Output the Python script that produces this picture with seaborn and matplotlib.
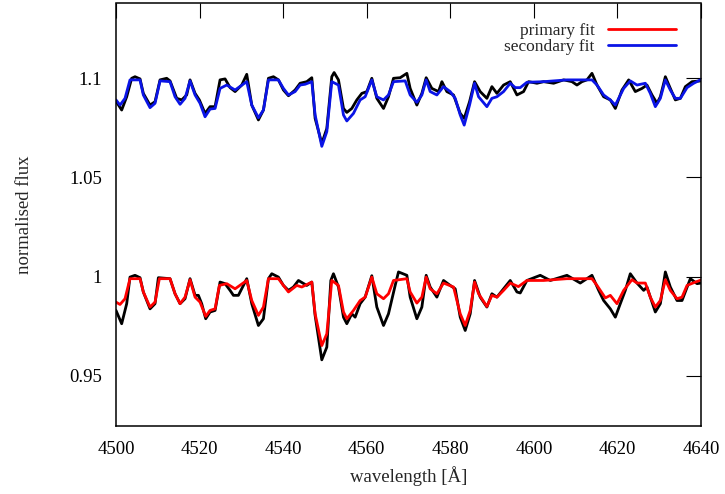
import matplotlib
matplotlib.use("Agg")
import matplotlib.pyplot as plt
import seaborn as sns

# ---------------- data ----------------
# secondary component: observed (black) and fit (blue), offset by +0.1
wl_sec_obs = [4500.0, 4501.36, 4502.56, 4503.75, 4504.55, 4505.75, 4506.54, 4508.14, 4509.34, 4510.54,
              4512.13, 4512.93, 4514.53, 4515.73, 4516.92, 4517.72, 4518.92, 4519.95, 4521.31, 4522.51,
              4523.71, 4524.90, 4526.10, 4527.30, 4528.50, 4530.09, 4531.29, 4532.49, 4534.08, 4535.28,
              4536.48, 4537.68, 4538.87, 4540.07, 4541.27, 4542.86, 4544.06, 4545.66, 4546.86, 4547.65,
              4549.25, 4550.45, 4551.64, 4552.20, 4553.24, 4554.44, 4555.24, 4556.43, 4557.63, 4558.83,
              4560.03, 4561.22, 4562.42, 4564.02, 4565.21, 4566.41, 4568.01, 4569.61, 4570.40, 4572.00,
              4573.20, 4574.23, 4575.59, 4577.19, 4577.99, 4579.18, 4580.78, 4582.38, 4583.33, 4584.61,
              4585.81, 4587.16, 4588.76, 4589.96, 4591.16, 4592.75, 4594.35, 4595.95, 4597.54, 4598.74,
              4600.74, 4602.33, 4604.73, 4607.12, 4609.12, 4610.31, 4611.51, 4612.71, 4613.91, 4615.11,
              4616.70, 4618.30, 4619.50, 4621.09, 4622.69, 4624.28, 4625.88, 4627.07, 4628.27, 4629.47,
              4630.27, 4631.47, 4632.66, 4633.86, 4635.06, 4636.26, 4637.85, 4640.00]
flux_sec_obs = [1.0885, 1.0840, 1.0907, 1.1000, 1.1008, 1.0997, 1.0924, 1.0865, 1.0882, 1.0992,
                1.1000, 1.0987, 1.0899, 1.0891, 1.0916, 1.0992, 1.0924, 1.0891, 1.0823, 1.0857,
                1.0857, 1.0992, 1.0997, 1.0953, 1.0933, 1.0966, 1.1020, 1.0865, 1.0790, 1.0840,
                1.1000, 1.1008, 1.0992, 1.0941, 1.0912, 1.0941, 1.0975, 1.0983, 1.1003, 1.0798,
                1.0672, 1.0747, 1.1008, 1.1029, 1.0992, 1.0848, 1.0828, 1.0848, 1.0891, 1.0924,
                1.0933, 1.1000, 1.0899, 1.0848, 1.0907, 1.1000, 1.1003, 1.1025, 1.0949, 1.0865,
                1.0924, 1.1003, 1.0949, 1.0933, 1.0983, 1.0933, 1.0916, 1.0823, 1.0798, 1.0882,
                1.0983, 1.0933, 1.0899, 1.0958, 1.0924, 1.0966, 1.0983, 1.0916, 1.0933, 1.0983,
                1.0975, 1.0983, 1.0975, 1.0992, 1.0983, 1.0966, 1.0983, 1.0992, 1.1025, 1.0966,
                1.0907, 1.0891, 1.0848, 1.0941, 1.0992, 1.0933, 1.0949, 1.0966, 1.0916, 1.0874,
                1.0907, 1.1008, 1.0949, 1.0891, 1.0899, 1.0958, 1.0983, 1.0987]

wl_sec_fit = [4500.0, 4500.96, 4502.16, 4503.35, 4505.75, 4506.54, 4508.14, 4509.34, 4510.54, 4512.93,
              4514.13, 4515.33, 4516.52, 4517.72, 4518.92, 4520.11, 4521.31, 4522.51, 4523.71, 4524.90,
              4526.50, 4528.50, 4531.29, 4532.49, 4534.08, 4535.28, 4536.48, 4538.87, 4540.07, 4541.27,
              4542.86, 4544.06, 4545.26, 4546.86, 4547.65, 4549.25, 4550.45, 4551.64, 4553.24, 4554.44,
              4555.24, 4556.83, 4558.43, 4559.63, 4561.22, 4562.42, 4564.02, 4565.21, 4566.41, 4569.21,
              4570.40, 4572.00, 4573.20, 4574.23, 4575.19, 4576.79, 4578.38, 4579.98, 4581.18, 4582.38,
              4583.33, 4584.61, 4585.81, 4586.77, 4588.76, 4589.96, 4591.16, 4592.75, 4594.35, 4595.55,
              4596.74, 4598.34, 4602.33, 4607.92, 4613.91, 4615.11, 4616.70, 4618.30, 4619.50, 4621.49,
              4623.08, 4624.68, 4626.68, 4627.87, 4629.07, 4630.27, 4631.47, 4632.66, 4633.86, 4635.06,
              4636.66, 4638.25, 4639.85, 4640.00]
flux_sec_fit = [1.0891, 1.0865, 1.0899, 1.0992, 1.0992, 1.0916, 1.0852, 1.0874, 1.0987, 1.0983,
                1.0907, 1.0869, 1.0899, 1.0987, 1.0916, 1.0874, 1.0806, 1.0845, 1.0848, 1.0949,
                1.0966, 1.0941, 1.0983, 1.0865, 1.0801, 1.0840, 1.0992, 1.0992, 1.0949, 1.0916,
                1.0933, 1.0966, 1.0970, 1.0983, 1.0815, 1.0657, 1.0731, 1.0983, 1.0966, 1.0815,
                1.0785, 1.0823, 1.0891, 1.0907, 1.0992, 1.0907, 1.0891, 1.0916, 1.0983, 1.0987,
                1.0916, 1.0879, 1.0916, 1.0992, 1.0933, 1.0916, 1.0958, 1.0933, 1.0899, 1.0815,
                1.0764, 1.0865, 1.0975, 1.0907, 1.0857, 1.0899, 1.0907, 1.0933, 1.0975, 1.0953,
                1.0953, 1.0980, 1.0983, 1.0992, 1.0992, 1.0966, 1.0916, 1.0891, 1.0865, 1.0949,
                1.0987, 1.0966, 1.0975, 1.0924, 1.0857, 1.0899, 1.0992, 1.0941, 1.0899, 1.0899,
                1.0953, 1.0975, 1.0992, 1.0995]

# primary component: observed (black) and fit (red)
wl_pri_obs = [4500.0, 4501.36, 4502.56, 4503.35, 4504.55, 4505.75, 4506.54, 4508.14, 4509.34, 4510.14,
              4512.93, 4514.13, 4515.33, 4516.52, 4517.72, 4518.92, 4519.72, 4520.51, 4521.47, 4522.51,
              4523.71, 4524.90, 4526.10, 4527.30, 4528.10, 4529.29, 4530.49, 4531.29, 4532.49, 4534.08,
              4535.28, 4536.48, 4537.28, 4538.87, 4540.07, 4541.27, 4542.46, 4543.66, 4545.66, 4546.86,
              4547.65, 4549.25, 4550.45, 4551.41, 4552.04, 4553.24, 4554.44, 4555.24, 4556.43, 4557.23,
              4558.43, 4559.63, 4561.22, 4562.42, 4564.02, 4565.21, 4566.81, 4567.61, 4569.61, 4570.40,
              4572.00, 4573.20, 4574.23, 4575.19, 4576.79, 4578.38, 4579.98, 4581.18, 4582.38, 4583.57,
              4584.77, 4585.81, 4587.16, 4588.76, 4589.96, 4591.16, 4592.75, 4594.35, 4595.95, 4596.74,
              4598.34, 4601.53, 4603.93, 4607.92, 4611.11, 4613.91, 4615.51, 4616.70, 4618.30, 4619.50,
              4620.69, 4621.89, 4623.08, 4624.68, 4626.28, 4627.07, 4629.07, 4630.27, 4631.47, 4632.66,
              4634.26, 4635.46, 4637.45, 4639.05, 4640.00]
flux_pri_obs = [0.9830, 0.9763, 0.9864, 0.9998, 1.0007, 0.9995, 0.9923, 0.9838, 0.9864, 0.9995,
                0.9990, 0.9914, 0.9864, 0.9889, 0.9990, 0.9906, 0.9906, 0.9864, 0.9788, 0.9822,
                0.9830, 0.9973, 0.9965, 0.9931, 0.9906, 0.9906, 0.9956, 0.9990, 0.9864, 0.9754,
                0.9788, 0.9990, 1.0015, 0.9998, 0.9956, 0.9931, 0.9948, 0.9981, 0.9956, 0.9973,
                0.9805, 0.9581, 0.9645, 0.9981, 1.0015, 0.9948, 0.9796, 0.9763, 0.9813, 0.9796,
                0.9864, 0.9897, 1.0005, 0.9847, 0.9754, 0.9813, 0.9956, 1.0024, 1.0007, 0.9897,
                0.9788, 0.9847, 1.0007, 0.9948, 0.9897, 0.9981, 0.9956, 0.9939, 0.9796, 0.9729,
                0.9813, 0.9981, 0.9897, 0.9847, 0.9914, 0.9897, 0.9939, 0.9981, 0.9923, 0.9918,
                0.9981, 1.0007, 0.9981, 1.0007, 0.9968, 1.0007, 0.9931, 0.9880, 0.9838, 0.9796,
                0.9864, 0.9931, 1.0015, 0.9968, 0.9931, 0.9948, 0.9822, 0.9864, 1.0024, 0.9948,
                0.9880, 0.9880, 0.9990, 0.9965, 0.9968]

wl_pri_fit = [4500.0, 4500.96, 4502.16, 4503.35, 4505.75, 4506.54, 4508.14, 4509.34, 4510.38, 4512.93,
              4514.13, 4515.33, 4516.52, 4517.72, 4518.92, 4520.11, 4521.47, 4522.51, 4523.71, 4524.74,
              4526.50, 4528.50, 4531.29, 4532.49, 4534.08, 4535.28, 4536.48, 4538.87, 4540.07, 4541.27,
              4543.26, 4544.46, 4546.86, 4547.65, 4549.25, 4550.45, 4551.64, 4553.24, 4554.44, 4555.24,
              4556.83, 4558.43, 4559.63, 4561.22, 4562.42, 4564.02, 4565.21, 4566.41, 4569.61, 4570.40,
              4572.00, 4573.20, 4574.23, 4575.19, 4576.79, 4578.38, 4580.78, 4582.38, 4583.57, 4584.77,
              4585.81, 4586.77, 4588.76, 4589.96, 4591.16, 4592.75, 4594.35, 4596.30, 4598.34, 4602.33,
              4607.92, 4613.91, 4615.11, 4617.10, 4618.30, 4619.89, 4621.49, 4623.48, 4624.68, 4626.68,
              4627.87, 4629.07, 4630.27, 4631.47, 4632.66, 4634.26, 4635.46, 4636.66, 4638.65, 4640.00]
flux_pri_fit = [0.9872, 0.9860, 0.9889, 0.9990, 0.9990, 0.9923, 0.9847, 0.9872, 0.9990, 0.9990,
                0.9914, 0.9864, 0.9897, 0.9985, 0.9897, 0.9872, 0.9800, 0.9830, 0.9838, 0.9956,
                0.9965, 0.9939, 0.9981, 0.9880, 0.9805, 0.9847, 0.9990, 0.9990, 0.9956, 0.9923,
                0.9956, 0.9948, 0.9973, 0.9813, 0.9653, 0.9712, 0.9981, 0.9956, 0.9822, 0.9788,
                0.9830, 0.9880, 0.9897, 0.9998, 0.9914, 0.9889, 0.9914, 0.9981, 0.9990, 0.9923,
                0.9867, 0.9897, 0.9998, 0.9939, 0.9914, 0.9968, 0.9948, 0.9813, 0.9754, 0.9830,
                0.9973, 0.9914, 0.9850, 0.9906, 0.9897, 0.9931, 0.9968, 0.9950, 0.9981, 0.9981,
                0.9990, 0.9990, 0.9956, 0.9893, 0.9906, 0.9864, 0.9931, 0.9985, 0.9968, 0.9968,
                0.9897, 0.9847, 0.9880, 0.9985, 0.9931, 0.9889, 0.9897, 0.9956, 0.9973, 0.9983]

x_ticks = [4500, 4520, 4540, 4560, 4580, 4600, 4620, 4640]
y_ticks = [0.95, 1.0, 1.05, 1.1]
y_tick_labels = ["0.95", "1", "1.05", "1.1"]

# ---------------- figure ----------------
sns.set_style("white")
plt.rcParams["font.family"] = ["Liberation Serif", "DejaVu Serif"]

W, H = 725, 494
fig = plt.figure(figsize=(W / 100, H / 100), dpi=100)
ax = fig.add_axes([116 / W, 1 - 426 / H, 585 / W, 422.5 / H])

lw = 2.0
sns.lineplot(x=wl_sec_obs, y=flux_sec_obs, ax=ax, color="black", lw=lw, estimator=None, sort=False)
sns.lineplot(x=wl_pri_obs, y=flux_pri_obs, ax=ax, color="black", lw=lw, estimator=None, sort=False)
sns.lineplot(x=wl_pri_fit, y=flux_pri_fit, ax=ax, color="#ff0000", lw=lw, estimator=None, sort=False,
             label="primary fit")
sns.lineplot(x=wl_sec_fit, y=flux_sec_fit, ax=ax, color="#0a14e6", lw=lw, estimator=None, sort=False,
             label="secondary fit")

ax.set_xlim(4500, 4640)
ax.set_ylim(0.92475, 1.1377)
ax.set_xticks(x_ticks)
ax.set_xticklabels([str(t) for t in x_ticks])
ax.set_yticks(y_ticks)
ax.set_yticklabels(y_tick_labels)

ax.tick_params(direction="in", length=11, width=0.8, top=True, right=True,
               labelsize=13.5, colors="black")
ax.tick_params(axis="x", pad=11)
ax.tick_params(axis="y", pad=10)
for s in ax.spines.values():
    s.set_color("black")
    s.set_linewidth(1.1)

ax.set_xlabel("wavelength [Å]", fontsize=13.5, labelpad=6)
ax.set_ylabel("normalised flux", fontsize=13.5, labelpad=26)

handles, labels = ax.get_legend_handles_labels()
leg = ax.legend(handles, labels, loc="upper right", bbox_to_anchor=(676 / W, 1 - 22.5 / H),
                bbox_transform=fig.transFigure, frameon=False, markerfirst=False,
                fontsize=12.5, handlelength=3.9, handletextpad=0.8, labelspacing=0.0,
                borderpad=0, borderaxespad=0)

fig.savefig("out.png", dpi=100)
